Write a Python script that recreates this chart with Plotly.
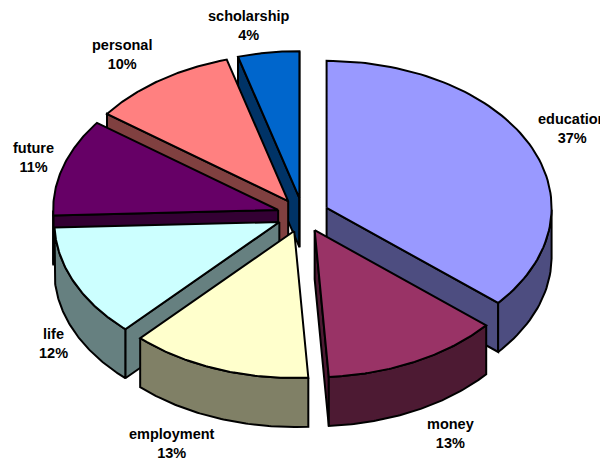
"""Exploded 3D-look pie drawn with filled scatter polygons."""

import numpy as np
import plotly.graph_objects as go

# slices run clockwise from twelve o'clock
categories = ["education", "money", "employment", "life", "future", "personal", "scholarship"]
shares = [36.2, 12.8, 13.0, 12.4, 10.7, 10.5, 4.4]
percent_labels = ["37%", "13%", "13%", "12%", "11%", "10%", "4%"]
top_colors = ["#9999FF", "#993366", "#FFFFCC", "#CCFFFF", "#660066", "#FF8080", "#0066CC"]
side_colors = ["#4D4D80", "#4D1A33", "#808066", "#668080", "#330033", "#804040", "#003366"]

# projection, in page pixels
CX, CY = 303, 215
RX, RY = 225, 147
DEPTH = 49
EXPLODE = 26

# the page body has an 8px margin, so the figure starts at (8, 8)
BODY_MARGIN = 8
PAGE_W, PAGE_H = 608, 464

label_xy = {
    "education": (572, 128),
    "money": (450, 433),
    "employment": (172, 443),
    "life": (53, 343),
    "future": (33, 157),
    "personal": (122, 54),
    "scholarship": (249, 25),
}


def polygon(fig, xs, ys, color):
    fig.add_trace(
        go.Scatter(
            x=xs,
            y=ys,
            mode="lines",
            fill="toself",
            fillcolor=color,
            line=dict(color="black", width=2),
            hoverinfo="skip",
            showlegend=False,
        )
    )


def draw_slice(fig, a0, a1, top, side):
    mid = (a0 + a1) / 2
    ax = CX + EXPLODE * np.sin(mid)
    ay = CY - EXPLODE * RY / RX * np.cos(mid)

    t = np.linspace(a0, a1, 80)
    ex = ax + RX * np.sin(t)
    ey = ay - RY * np.cos(t)

    # cut faces first, only the ones turned towards the viewer
    for angle, visible in ((a0, np.sin(a0) < 0), (a1, np.sin(a1) > 0)):
        if visible:
            px = ax + RX * np.sin(angle)
            py = ay - RY * np.cos(angle)
            polygon(fig, [ax, px, px, ax, ax], [ay, py, py + DEPTH, ay + DEPTH, ay], side)

    # outer wall, the part of the rim on the front half
    front = (t >= np.pi / 2) & (t <= 3 * np.pi / 2)
    if front.any():
        wx = ex[front]
        wy = ey[front]
        polygon(
            fig,
            np.r_[wx, wx[::-1], wx[0]],
            np.r_[wy, wy[::-1] + DEPTH, wy[0]],
            side,
        )

    polygon(fig, np.r_[ax, ex, ax], np.r_[ay, ey, ay], top)


fig = go.Figure()

edges = np.cumsum([0] + shares) / sum(shares) * 2 * np.pi
slices = list(zip(edges[:-1], edges[1:], top_colors, side_colors))
# paint from the back of the pie to the front
slices.sort(key=lambda s: -np.cos((s[0] + s[1]) / 2))
for a0, a1, top, side in slices:
    draw_slice(fig, a0, a1, top, side)

for name, pct in zip(categories, percent_labels):
    x, y = label_xy[name]
    fig.add_annotation(
        x=x,
        y=y,
        text=f"{name}<br>{pct}",
        showarrow=False,
        align="center",
        font=dict(family="Liberation Sans", size=14.5, color="black", weight="bold"),
    )

fig.update_xaxes(range=[BODY_MARGIN, PAGE_W], visible=False)
fig.update_yaxes(range=[PAGE_H, BODY_MARGIN], visible=False)
fig.update_layout(
    width=PAGE_W - BODY_MARGIN,
    height=PAGE_H - BODY_MARGIN,
    margin=dict(l=0, r=0, t=0, b=0),
    paper_bgcolor="white",
    plot_bgcolor="white",
    showlegend=False,
)
fig.write_html("out.html")
